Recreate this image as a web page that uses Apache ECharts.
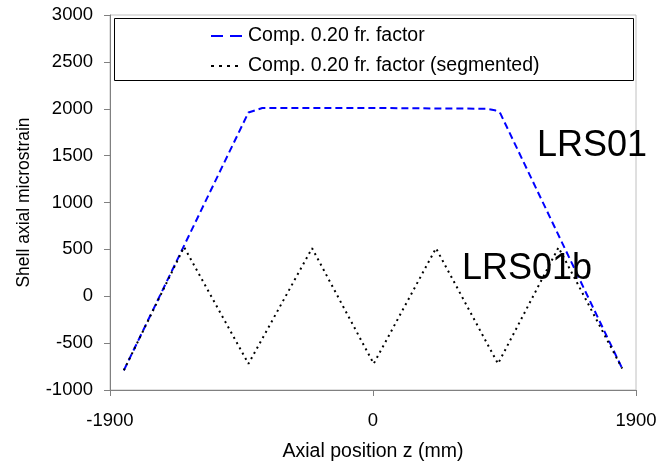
<!DOCTYPE html>
<html>
<head>
<meta charset="utf-8">
<script src="https://cdn.jsdelivr.net/npm/echarts@6/dist/echarts.min.js"></script>
<style>
  html, body { margin: 0; padding: 0; background: #fff; }
  #chart { width: 658px; height: 464px; }
</style>
</head>
<body>
<div id="chart"></div>
<script>
// z position (mm), microstrain
var compPts = [[-1800, -790], [-900, 1960], [-800, 2008], [0, 2008], [0, 2000], [820, 2000], [880, 1985], [920, 1950], [1800, -770]];
var segPts = [[-1800, -790], [-1365, 525], [-900, -720], [-440, 512], [5, -720], [455, 512], [903, -720], [1340, 520], [1800, -770]];
var xTicks = [-1900, 1900, 1900]; // min, max, interval
var yTicks = [-1000, 3000, 500];
var seriesNames = ['Comp. 0.20 fr. factor', 'Comp. 0.20 fr. factor (segmented)'];

var FONT = 'Liberation Sans, Arial, sans-serif';
var chart = echarts.init(document.getElementById('chart'));

var plain = function (v) { return String(v); };

var option = {
  animation: false,
  backgroundColor: '#fff',
  grid: {
    left: 110, right: 22, top: 15, bottom: 74,
    outerBoundsMode: 'none', containLabel: false,
    show: true, borderColor: '#c0c0c0', borderWidth: 1
  },
  legend: {
    orient: 'vertical',
    left: 205, top: 21,
    itemWidth: 32, itemHeight: 14, itemGap: 10,
    itemStyle: { opacity: 0 },
    textStyle: { fontFamily: FONT, fontSize: 19.5, color: '#000' },
    data: [
      { name: seriesNames[0], lineStyle: { type: [12, 7] } },
      { name: seriesNames[1], lineStyle: { type: [3, 5] } }
    ]
  },
  xAxis: {
    type: 'value',
    min: xTicks[0], max: xTicks[1], interval: xTicks[2],
    name: 'Axial position z (mm)',
    nameLocation: 'middle', nameGap: 52,
    nameTextStyle: { fontFamily: FONT, fontSize: 19.5, color: '#000' },
    axisLine: { onZero: false, lineStyle: { color: '#808080' } },
    axisTick: { inside: false, length: 6, lineStyle: { color: '#808080' } },
    axisLabel: { fontFamily: FONT, fontSize: 18.5, color: '#000', margin: 21, formatter: plain },
    splitLine: { show: false }
  },
  yAxis: {
    type: 'value',
    min: yTicks[0], max: yTicks[1], interval: yTicks[2],
    name: 'Shell axial microstrain',
    nameLocation: 'middle', nameGap: 77,
    nameTextStyle: { fontFamily: FONT, fontSize: 17.5, color: '#000' },
    axisLine: { show: true, onZero: false, lineStyle: { color: '#808080' } },
    axisTick: { show: true, inside: false, length: 6, lineStyle: { color: '#808080' } },
    axisLabel: { fontFamily: FONT, fontSize: 18.5, color: '#000', margin: 17, formatter: plain },
    splitLine: { show: false }
  },
  graphic: [
    {
      type: 'rect', z: 0,
      shape: { x: 114.5, y: 18.5, width: 519, height: 62 },
      style: { fill: '#fff', stroke: '#000', lineWidth: 1 }
    },
    {
      type: 'text', left: 537, top: 128, z: 10,
      style: { text: 'LRS01', font: '36px ' + FONT, fill: '#000' }
    },
    {
      type: 'text', left: 462, top: 251, z: 10,
      style: { text: 'LRS01b', font: '36px ' + FONT, fill: '#000' }
    }
  ],
  series: [
    {
      name: seriesNames[0],
      type: 'line',
      data: compPts,
      symbol: 'none',
      z: 3,
      lineStyle: { color: '#0000ff', width: 2, type: [7, 4] },
      itemStyle: { color: '#0000ff' }
    },
    {
      name: seriesNames[1],
      type: 'line',
      data: segPts,
      symbol: 'none',
      z: 4,
      lineStyle: { color: '#000', width: 2, type: [2, 4] },
      itemStyle: { color: '#000' }
    }
  ]
};
chart.setOption(option);
</script>
</body>
</html>
